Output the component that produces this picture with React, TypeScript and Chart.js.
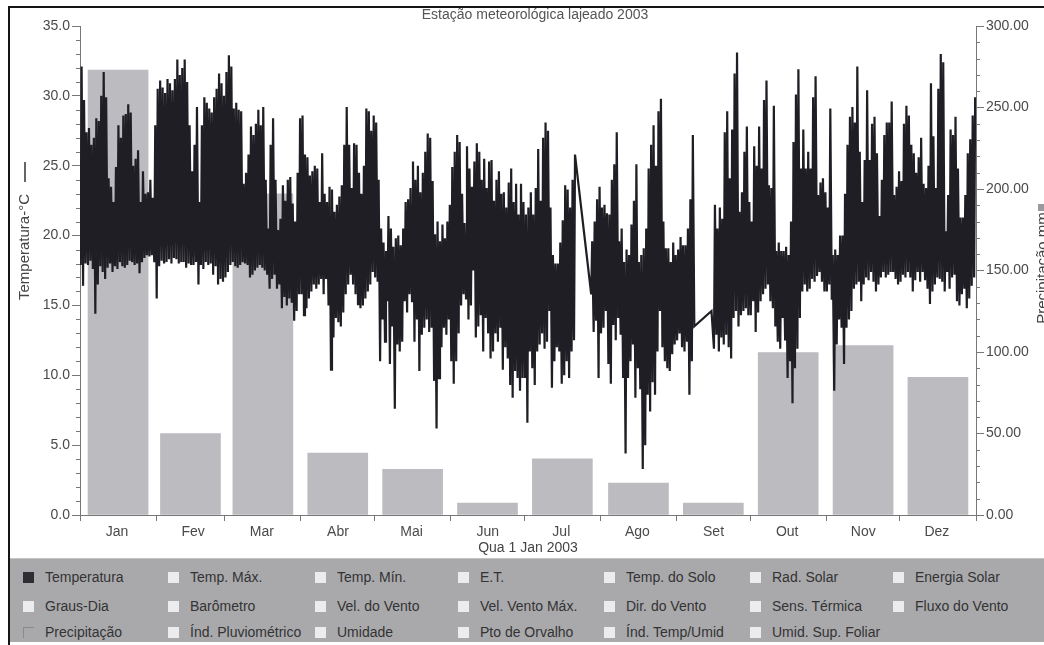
import React, { useEffect, useRef } from 'react';
import { Chart, registerables } from 'chart.js';

Chart.register(...registerables);

const FONT = "'Liberation Sans', Arial, sans-serif";

const chartTitle = 'Estação meteorológica lajeado 2003';
const xAxisTitle = 'Qua 1 Jan 2003';
const leftAxisTitle = 'Temperatura-°C';
const rightAxisTitle = 'Precipitação mm';

const monthLabels = ['Jan', 'Fev', 'Mar', 'Abr', 'Mai', 'Jun', 'Jul', 'Ago', 'Set', 'Out', 'Nov', 'Dez'];
const monthDays = [31, 28, 31, 30, 31, 30, 31, 31, 30, 31, 30, 31];

// Monthly precipitation (mm), right axis
const precipitation = [273, 50, 197, 38, 28, 7.3, 34.5, 19.6, 7.3, 99.6, 104, 84.5];

// Daily temperature extremes (°C), left axis; null = no record
const maxJan = [32.1, 29.7, 27.4, 27.7, 26.5, 27.0, 28.4, 28.2, 30.0, 31.7, 29.9, 24.1, 23.5, 22.4, 24.9, 27.9, 27.0, 28.6, 28.7, 29.4, 28.8, 25.0, 25.5, 26.1, 22.4, 24.6, 23.0, 23.1, 24.0, 22.7, 27.9];
const minJan = [17.9, 16.4, 18.0, 17.9, 18.2, 17.6, 14.4, 16.5, 17.8, 17.4, 16.9, 17.7, 18.0, 17.4, 17.8, 17.6, 18.1, 17.8, 17.7, 17.9, 18.2, 18.1, 17.9, 18.0, 17.3, 18.1, 18.4, 18.6, 18.5, 18.6, 18.1];
const maxFev = [30.5, 31.1, 30.6, 30.2, 31.2, 30.9, 30.4, 31.2, 32.6, 31.5, 32.0, 32.6, 31.0, 27.9, 24.6, 26.5, 29.2, 22.4, 27.9, 29.9, 29.5, 29.1, 28.8, 29.9, 30.5, 31.6, 30.9, 30.0];
const minFev = [15.5, 17.8, 18.2, 18.0, 18.1, 18.3, 18.0, 18.4, 18.3, 18.0, 18.1, 18.1, 17.7, 18.0, 17.9, 17.9, 18.1, 16.5, 17.9, 17.6, 18.1, 17.9, 18.0, 17.2, 17.8, 16.5, 16.9, 16.7];
const maxMar = [31.7, 32.9, 32.1, 29.1, 29.5, 29.0, 28.9, 23.7, 24.5, 25.8, 27.8, 27.2, 28.0, 29.0, 27.9, 29.2, 24.0, 20.5, 26.5, 28.4, 24.0, 20.4, 21.2, 23.6, 22.5, 24.0, 24.2, 22.3, 21.0, 24.5, 28.4];
const minMar = [17.0, 17.4, 17.9, 18.1, 17.8, 17.7, 17.9, 18.1, 18.0, 17.9, 17.0, 17.2, 17.5, 17.7, 17.9, 17.7, 17.5, 17.2, 16.2, 16.9, 17.2, 16.2, 16.5, 14.8, 15.6, 15.0, 15.5, 15.2, 13.9, 14.6, 15.8];
const maxAbr = [28.6, 25.8, 25.6, 24.3, 24.6, 25.0, 24.8, 22.4, 25.9, 23.0, 22.4, 23.5, 23.3, 21.7, 22.2, 22.8, 23.6, 26.5, 29.2, 26.5, 23.4, 26.6, 26.5, 24.5, 23.0, 25.0, 29.1, 28.9, 27.5, 28.6];
const minAbr = [15.8, 14.3, 14.8, 15.5, 16.0, 16.5, 16.2, 16.5, 16.9, 15.8, 16.9, 15.0, 10.4, 12.7, 14.1, 13.8, 13.5, 14.5, 15.8, 16.5, 17.2, 16.5, 15.8, 15.1, 14.8, 15.0, 15.5, 16.0, 16.5, 17.4];
const maxMai = [28.1, 24.0, 20.5, 19.5, 18.9, 21.4, 20.5, 19.2, 19.8, 20.0, 19.3, 20.5, 22.4, 22.6, 23.4, 25.3, 24.0, 25.0, 23.1, 24.5, 26.0, 27.3, 27.0, 23.9, 20.1, 21.0, 19.6, 20.8, 19.8, 21.0, 22.2];
const minMai = [17.0, 16.7, 11.0, 14.0, 12.4, 15.3, 10.8, 13.5, 7.6, 12.2, 11.7, 12.4, 15.3, 14.5, 15.8, 15.3, 12.4, 14.0, 10.3, 12.9, 13.4, 14.0, 13.1, 13.4, 9.6, 6.2, 9.8, 12.0, 13.4, 12.9, 14.0];
const maxJun = [24.9, 26.0, 27.2, 26.7, 23.0, 20.9, 26.4, 24.8, 23.5, 25.3, 26.6, 26.0, 24.0, 25.5, 23.4, 25.3, 25.4, 22.5, 24.0, 24.6, 23.0, 23.1, 22.0, 23.8, 24.8, 22.4, 23.7, 21.5, 23.7, 22.4];
const minJun = [11.0, 9.4, 11.0, 13.0, 15.0, 15.8, 15.5, 14.0, 15.0, 17.5, 12.7, 13.5, 14.3, 11.7, 14.1, 13.0, 11.2, 11.7, 13.0, 12.4, 13.4, 10.4, 12.0, 11.2, 9.3, 8.4, 10.3, 9.8, 8.9, 9.8];
const maxJul = [21.5, 22.0, 23.1, 21.5, 23.4, 26.2, 22.5, 27.0, 28.1, 27.5, 22.0, 18.6, 18.0, 18.0, 19.5, 21.1, 23.6, 23.3, 22.0, 24.0, 25.8, null, null, null, null, null, null, 19.6, 21.0, 22.6, 23.5];
const minJul = [9.8, 6.6, 11.7, 10.5, 9.3, 11.7, 12.2, 13.0, 11.9, 12.4, 14.6, 9.1, 11.0, 12.0, 11.7, 9.4, 10.0, 11.0, 9.8, 11.7, 12.5, null, null, null, null, null, null, 15.8, 13.1, 13.9, 9.8];
const maxAgo = [22.0, 22.2, 21.6, 21.5, 24.0, 25.1, 27.4, 19.6, 20.5, 18.1, 19.0, 18.6, 20.8, 22.5, 25.1, 18.1, 18.6, 19.1, 20.5, 24.8, 26.5, 27.9, 25.0, 28.9, 29.8, 21.0, 19.1, 19.1, 18.1, 19.5, 18.6];
const minAgo = [13.0, 13.4, 14.6, 10.8, 9.4, 13.6, 12.5, 14.1, 12.9, 9.8, 4.4, 9.8, 11.0, 12.2, 8.4, 10.5, 9.0, 3.3, 5.0, 8.6, 7.4, 9.5, 8.6, 11.7, 14.6, 12.0, 11.0, 10.5, 10.3, 11.5, 12.2];
const maxSet = [19.0, 19.9, 19.3, 19.3, 20.5, 22.6, 27.2, null, null, null, null, null, null, null, null, 22.2, 20.5, 22.0, 21.2, 27.4, 28.9, 24.1, 27.6, 31.6, 33.1, 21.7, 23.1, 26.0, 27.8, 22.4];
const minSet = [12.5, 13.0, 12.0, 11.7, 12.4, 8.6, 11.0, 13.5, null, null, null, null, null, null, 14.6, 11.9, 12.9, 11.7, 12.7, 12.2, 12.9, 12.0, 11.2, 14.1, 14.6, 13.5, 14.3, 14.6, 14.8, 14.3];
const maxOut = [21.0, 26.4, 25.0, 27.8, 24.8, 29.7, 31.1, 23.6, 23.4, 29.3, 18.9, 19.5, 18.9, 18.9, 19.2, 18.6, 21.0, 26.7, 30.1, 31.9, 24.8, 27.6, 24.8, 26.0, 24.8, 29.9, 31.4, 22.9, 23.8, 24.1, 23.1];
const minOut = [14.3, 15.3, 13.1, 14.5, 15.3, 15.8, 16.2, 16.5, 15.3, 14.8, 13.5, 12.4, 11.9, 14.1, 12.5, 9.8, 11.0, 8.0, 10.5, 11.9, 14.1, 16.0, 16.5, 16.0, 16.2, 16.9, 16.7, 17.1, 17.4, 16.7, 16.0];
const maxNov = [22.0, 29.1, 18.6, 19.0, 18.6, 20.0, 20.0, 23.0, 26.5, 28.5, 29.2, 28.1, 32.1, 26.0, 22.4, 25.4, 30.4, 25.4, 28.0, 28.5, 25.9, 21.4, 24.0, 27.2, 28.1, 28.1, 29.6, 22.9, 23.5, 24.6];
const minNov = [16.0, 16.5, 15.4, 8.9, 12.2, 14.0, 13.4, 10.8, 13.4, 14.0, 14.6, 16.2, 16.5, 16.7, 15.3, 16.5, 17.0, 16.8, 17.4, 16.7, 16.0, 16.5, 17.0, 17.4, 17.0, 17.2, 17.4, 17.4, 16.9, 16.5];
const maxDez = [23.9, 28.0, 29.3, 28.6, 26.5, 25.9, 24.5, 25.6, 27.0, 23.7, 23.4, 25.0, 30.9, 27.1, 23.4, 30.5, 33.0, 32.4, 20.3, 22.9, 27.6, 27.2, 28.5, 24.8, 21.3, 21.3, 22.9, 25.9, 26.9, 28.6, 29.9];
const minDez = [16.7, 17.2, 17.0, 17.4, 17.0, 16.0, 16.8, 17.4, 16.7, 17.4, 16.8, 16.2, 15.1, 16.0, 16.5, 17.0, 16.9, 16.7, 16.0, 17.4, 16.2, 17.0, 17.2, 15.3, 15.0, 15.8, 16.2, 14.8, 15.5, 16.4, 17.0];

const tempMax = [maxJan, maxFev, maxMar, maxAbr, maxMai, maxJun, maxJul, maxAgo, maxSet, maxOut, maxNov, maxDez];
const tempMin = [minJan, minFev, minMar, minAbr, minMai, minJun, minJul, minAgo, minSet, minOut, minNov, minDez];

const leftTicks = { min: 0, max: 35, major: 5, minor: 1 };
const rightTicks = { min: 0, max: 300, major: 50, minor: 10 };

const legendRows = [
  ['Temperatura', 'Temp. Máx.', 'Temp. Mín.', 'E.T.', 'Temp. do Solo', 'Rad. Solar', 'Energia Solar'],
  ['Graus-Dia', 'Barômetro', 'Vel. do Vento', 'Vel. Vento Máx.', 'Dir. do Vento', 'Sens. Térmica', 'Fluxo do Vento'],
  ['Precipitação', 'Índ. Pluviométrico', 'Umidade', 'Pto de Orvalho', 'Índ. Temp/Umid', 'Umid. Sup. Foliar'],
];
const legendColX = [45, 190, 337, 480, 626, 772, 915];
const legendRowY = [578, 607, 633];

const monthStarts: number[] = [];
{
  let acc = 0;
  for (const d of monthDays) {
    monthStarts.push(acc);
    acc += d;
  }
}
const yearLength = monthDays.reduce((a, b) => a + b, 0);

function buildTempPoints() {
  const pts: { x: number; y: number | null }[] = [];
  tempMax.forEach((arr, m) => {
    arr.forEach((hi, d) => {
      const lo = tempMin[m][d];
      pts.push({ x: monthStarts[m] + d + 0.25, y: lo });
      pts.push({ x: monthStarts[m] + d + 0.65, y: hi });
    });
  });
  return pts;
}

const decorPlugin = {
  id: 'decor',
  afterDraw(chart: any) {
    const { ctx, scales } = chart;
    const y = scales.y;
    const y1 = scales.y1;
    const x = scales.x;
    ctx.save();
    ctx.strokeStyle = '#777';
    ctx.lineWidth = 1;
    for (let v = leftTicks.min; v <= leftTicks.max; v += leftTicks.minor) {
      if (v % leftTicks.major === 0) continue;
      const py = Math.round(y.getPixelForValue(v)) + 0.5;
      ctx.beginPath();
      ctx.moveTo(x.left - 4, py);
      ctx.lineTo(x.left, py);
      ctx.stroke();
    }
    for (let v = rightTicks.min; v <= rightTicks.max; v += rightTicks.minor) {
      if (v % rightTicks.major === 0) continue;
      const py = Math.round(y1.getPixelForValue(v)) + 0.5;
      ctx.beginPath();
      ctx.moveTo(x.right, py);
      ctx.lineTo(x.right + 4, py);
      ctx.stroke();
    }
    // title
    ctx.fillStyle = '#555';
    ctx.font = `14px ${FONT}`;
    ctx.textAlign = 'center';
    ctx.textBaseline = 'middle';
    ctx.fillText(chartTitle, 535, 15);
    // left axis title
    ctx.save();
    ctx.translate(29, 247);
    ctx.rotate(-Math.PI / 2);
    ctx.font = `15px ${FONT}`;
    ctx.fillStyle = '#444';
    ctx.textBaseline = 'alphabetic';
    ctx.fillText(leftAxisTitle, 0, 0);
    ctx.restore();
    ctx.strokeStyle = '#333';
    ctx.lineWidth = 1.5;
    ctx.beginPath();
    ctx.moveTo(25, 162);
    ctx.lineTo(25, 182);
    ctx.stroke();
    // right axis title (partly cut by page edge)
    ctx.save();
    ctx.translate(1047, 268);
    ctx.rotate(-Math.PI / 2);
    ctx.font = `15px ${FONT}`;
    ctx.fillStyle = '#444';
    ctx.textBaseline = 'alphabetic';
    ctx.fillText(rightAxisTitle, 0, 0);
    ctx.restore();
    ctx.fillStyle = '#9a9a9e';
    ctx.fillRect(1038, 204, 6, 7);
    ctx.restore();
  },
};

export default function App() {
  const ref = useRef<HTMLCanvasElement>(null);

  useEffect(() => {
    const canvas = ref.current;
    if (!canvas) return;
    const tickFont = { family: FONT, size: 14 };
    const chart = new Chart(canvas, {
      type: 'bar',
      data: {
        datasets: [
          {
            type: 'line',
            label: 'Temperatura',
            data: buildTempPoints() as any,
            xAxisID: 'x',
            yAxisID: 'y',
            borderColor: '#1e1e24',
            borderWidth: 2.2,
            borderJoinStyle: 'miter',
            pointRadius: 0,
            tension: 0,
            fill: false,
            spanGaps: true,
            order: 0,
          } as any,
          {
            type: 'bar',
            label: 'Precipitação',
            data: precipitation.map((v, i) => ({ x: monthStarts[i] + monthDays[i] / 2, y: v })) as any,
            xAxisID: 'x',
            yAxisID: 'y1',
            backgroundColor: '#bbbbc0',
            borderWidth: 0,
            barThickness: 60,
            order: 1,
          } as any,
        ],
      },
      options: {
        responsive: false,
        animation: false,
        events: [],
        layout: { padding: { top: 26, bottom: 88, left: 0, right: 0 } },
        plugins: {
          legend: { display: false },
          tooltip: { enabled: false },
          title: { display: false },
        },
        scales: {
          x: {
            type: 'linear',
            position: 'bottom',
            min: 0,
            max: yearLength,
            offset: false,
            afterBuildTicks: (scale: any) => {
              scale.ticks = [...monthStarts, yearLength].map((v) => ({ value: v }));
            },
            afterFit: (scale: any) => {
              scale.height = 42;
            },
            ticks: {
              autoSkip: false,
              maxRotation: 0,
              minRotation: 0,
              labelOffset: 37,
              padding: 3,
              color: '#4a4a4a',
              font: tickFont,
              callback: (_v: any, i: number) => monthLabels[i] ?? '',
            },
            grid: { drawOnChartArea: false, offset: false, tickLength: 6, color: '#777' },
            border: { color: '#777', width: 1 },
            title: {
              display: true,
              text: xAxisTitle,
              color: '#444',
              font: tickFont,
              padding: { top: 0, bottom: 0 },
            },
          } as any,
          y: {
            type: 'linear',
            position: 'left',
            min: leftTicks.min,
            max: leftTicks.max,
            afterFit: (scale: any) => {
              scale.width = 80;
            },
            ticks: {
              stepSize: leftTicks.major,
              padding: 2,
              color: '#4a4a4a',
              font: tickFont,
              callback: (v: any) => Number(v).toFixed(1),
            },
            grid: { drawOnChartArea: false, tickLength: 8, color: '#777' },
            border: { color: '#777', width: 1 },
          } as any,
          y1: {
            type: 'linear',
            position: 'right',
            min: rightTicks.min,
            max: rightTicks.max,
            afterFit: (scale: any) => {
              scale.width = 68;
            },
            ticks: {
              stepSize: rightTicks.major,
              padding: 2,
              color: '#4a4a4a',
              font: tickFont,
              callback: (v: any) => Number(v).toFixed(2),
            },
            grid: { drawOnChartArea: false, tickLength: 8, color: '#777' },
            border: { color: '#777', width: 1 },
          } as any,
        },
      },
      plugins: [decorPlugin],
    });
    return () => chart.destroy();
  }, []);

  return (
    <div
      style={{
        position: 'fixed',
        left: 0,
        top: 0,
        width: 1044,
        height: 645,
        background: '#ffffff',
        overflow: 'hidden',
        fontFamily: FONT,
      }}
    >
      <canvas
        ref={ref}
        width={1044}
        height={645}
        style={{ position: 'absolute', left: 0, top: 0, width: 1044, height: 645 }}
      />
      <div style={{ position: 'absolute', left: 8, top: 6, width: 1036, height: 2, background: '#151515' }} />
      <div style={{ position: 'absolute', left: 8, top: 6, width: 2, height: 639, background: '#151515' }} />
      <div
        style={{
          position: 'absolute',
          left: 10,
          top: 558,
          width: 1034,
          height: 84,
          background: '#a9a9ac',
          borderTop: '1px solid #c4c4c6',
          boxSizing: 'border-box',
        }}
      />
      {legendRows.map((row, r) =>
        row.map((label, c) => {
          const isTemp = r === 0 && c === 0;
          const isPrec = r === 2 && c === 0;
          return (
            <React.Fragment key={`${r}-${c}`}>
              <div
                style={{
                  position: 'absolute',
                  left: legendColX[c] - 22,
                  top: legendRowY[r] - 6,
                  width: 11,
                  height: 11,
                  boxSizing: 'border-box',
                  background: isTemp ? '#2e2e32' : isPrec ? '#a9a9ac' : '#ececee',
                  borderTop: isPrec ? '1px solid #8a8a8e' : 'none',
                  borderLeft: isPrec ? '1px solid #8a8a8e' : 'none',
                }}
              />
              <div
                style={{
                  position: 'absolute',
                  left: legendColX[c],
                  top: legendRowY[r] - 9,
                  fontSize: 14,
                  lineHeight: '17px',
                  color: '#333',
                  whiteSpace: 'nowrap',
                }}
              >
                {label}
              </div>
            </React.Fragment>
          );
        })
      )}
    </div>
  );
}
